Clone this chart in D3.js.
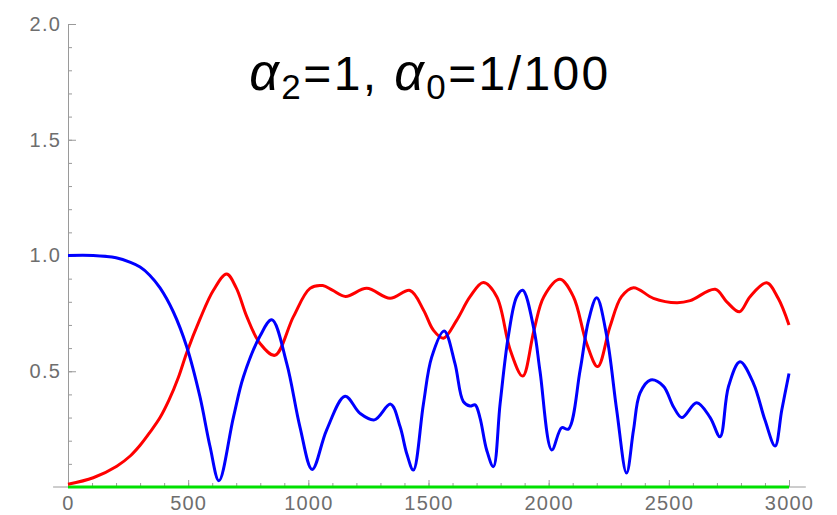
<!DOCTYPE html>
<html>
<head>
<meta charset="utf-8">
<script src="https://cdn.jsdelivr.net/npm/d3@7"></script>
<style>
  body { margin: 0; background: #fff; }
  svg { display: block; }
  .tick text { font-family: "Liberation Sans", Arial, sans-serif; font-size: 20px; fill: #6e6e6e; letter-spacing: 1.2px; }
</style>
</head>
<body>
<svg id="chart" width="837" height="515"></svg>
<script>
const xTicks = [0, 500, 1000, 1500, 2000, 2500, 3000];
const yTicks = [0.5, 1.0, 1.5, 2.0];

// red curve [t, value]
const redData = [
  [0, 0.012], [105, 0.04], [203, 0.09], [260, 0.135], [300, 0.18], [340, 0.235], [383, 0.30],
  [420, 0.375], [460, 0.475], [494, 0.58], [549, 0.725], [605, 0.85], [660, 0.92], [700, 0.86],
  [744, 0.736], [799, 0.62], [861, 0.569], [938, 0.736], [1007, 0.858], [1060, 0.87], [1100, 0.85],
  [1155, 0.823], [1243, 0.858], [1340, 0.815], [1423, 0.849], [1479, 0.765], [1520, 0.678],
  [1562, 0.643], [1617, 0.72], [1673, 0.822], [1728, 0.883], [1784, 0.822], [1840, 0.592],
  [1892, 0.479], [1939, 0.678], [1980, 0.822], [2047, 0.897], [2103, 0.822], [2158, 0.62],
  [2204, 0.52], [2255, 0.692], [2303, 0.822], [2353, 0.861], [2436, 0.815], [2533, 0.796],
  [2589, 0.805], [2693, 0.854], [2741, 0.80], [2794, 0.757], [2838, 0.822], [2907, 0.882],
  [2955, 0.815], [3000, 0.70]
];

// blue curve [t, value]
const blueData = [
  [0, 1.0], [105, 1.0], [200, 0.99], [260, 0.97], [300, 0.95], [340, 0.915], [383, 0.86],
  [438, 0.757], [494, 0.606], [549, 0.39], [591, 0.175], [628, 0.027], [688, 0.30], [730, 0.476],
  [799, 0.652], [848, 0.722], [910, 0.534], [965, 0.26], [1016, 0.076], [1076, 0.246],
  [1153, 0.392], [1215, 0.318], [1275, 0.29], [1342, 0.358], [1382, 0.26], [1409, 0.146],
  [1437, 0.073], [1479, 0.36], [1513, 0.56], [1565, 0.674], [1610, 0.534], [1645, 0.369],
  [1673, 0.35], [1694, 0.355], [1714, 0.30], [1742, 0.16], [1770, 0.088], [1798, 0.36],
  [1832, 0.65], [1867, 0.822], [1892, 0.85], [1939, 0.68], [1964, 0.5], [2013, 0.16],
  [2054, 0.256], [2082, 0.25], [2131, 0.505], [2166, 0.72], [2200, 0.817], [2242, 0.65],
  [2283, 0.333], [2324, 0.06], [2353, 0.246], [2380, 0.405], [2424, 0.462], [2477, 0.436],
  [2519, 0.347], [2554, 0.30], [2616, 0.364], [2672, 0.30], [2713, 0.217], [2748, 0.433],
  [2796, 0.541], [2852, 0.448], [2900, 0.289], [2942, 0.177], [2970, 0.333], [3000, 0.49]
];

// green curve: stays at zero
const greenData = [[0, 0], [3000, 0]];

const svg = d3.select("#chart");

const x = d3.scaleLinear().domain([0, 3000]).range([68, 789]);
const y = d3.scaleLinear().domain([0, 2]).range([487, 24]);

// y axis: minor then major ticks, pointing inward
svg.append("g")
    .attr("transform", `translate(${x(0)},0)`)
    .call(d3.axisLeft(y).tickValues(d3.range(0.1, 2.0, 0.1)).tickSize(-4).tickSizeOuter(0).tickFormat(""))
    .call(g => g.select(".domain").remove())
    .call(g => g.selectAll("line").attr("stroke", "#9a9a9a"));

svg.append("g")
    .attr("transform", `translate(${x(0)},0)`)
    .call(d3.axisLeft(y).tickValues(yTicks).tickSize(-8).tickSizeOuter(0).tickPadding(7).tickFormat(d3.format(".1f")))
    .call(g => g.select(".domain").attr("stroke", "#9a9a9a"))
    .call(g => g.selectAll("line").attr("stroke", "#9a9a9a"));

// x axis
svg.append("g")
    .attr("transform", `translate(0,${y(0)})`)
    .call(d3.axisBottom(x).tickValues(d3.range(100, 3000, 100)).tickSize(-4).tickSizeOuter(0).tickFormat(""))
    .call(g => g.select(".domain").remove())
    .call(g => g.selectAll("line").attr("stroke", "#9a9a9a"));

svg.append("g")
    .attr("transform", `translate(0,${y(0)})`)
    .call(d3.axisBottom(x).tickValues(xTicks).tickSize(-7).tickSizeOuter(0).tickPadding(9).tickFormat(d3.format("d")))
    .call(g => g.select(".domain").remove())
    .call(g => g.selectAll("line").attr("stroke", "#9a9a9a"));

svg.append("line")
    .attr("x1", x(-62)).attr("x2", x(3070))
    .attr("y1", y(0)).attr("y2", y(0))
    .attr("stroke", "#9a9a9a");

const line = d3.line()
    .x(d => x(d[0]))
    .y(d => y(d[1]))
    .curve(d3.curveCatmullRom.alpha(0.5));

svg.append("path").datum(greenData).attr("d", line)
    .attr("fill", "none").attr("stroke", "#00e000").attr("stroke-width", 3.2);
svg.append("path").datum(redData).attr("d", line)
    .attr("fill", "none").attr("stroke", "#ff0000").attr("stroke-width", 3);
svg.append("path").datum(blueData).attr("d", line)
    .attr("fill", "none").attr("stroke", "#0000ff").attr("stroke-width", 3);

// title
const title = svg.append("text")
    .attr("x", 430).attr("y", 90)
    .attr("text-anchor", "middle")
    .style("font-family", "'Liberation Sans', Arial, sans-serif")
    .style("font-size", "48px")
    .style("letter-spacing", "2.4px")
    .attr("fill", "#000");
title.append("tspan").style("font-style", "italic").style("font-size", "52px").text("α");
title.append("tspan").attr("dy", 9).style("font-size", "35px").text("2");
title.append("tspan").attr("dy", -9).text("=1, ");
title.append("tspan").style("font-style", "italic").style("font-size", "52px").text("α");
title.append("tspan").attr("dy", 9).style("font-size", "35px").text("0");
title.append("tspan").attr("dy", -9).text("=1/100");
</script>
</body>
</html>
